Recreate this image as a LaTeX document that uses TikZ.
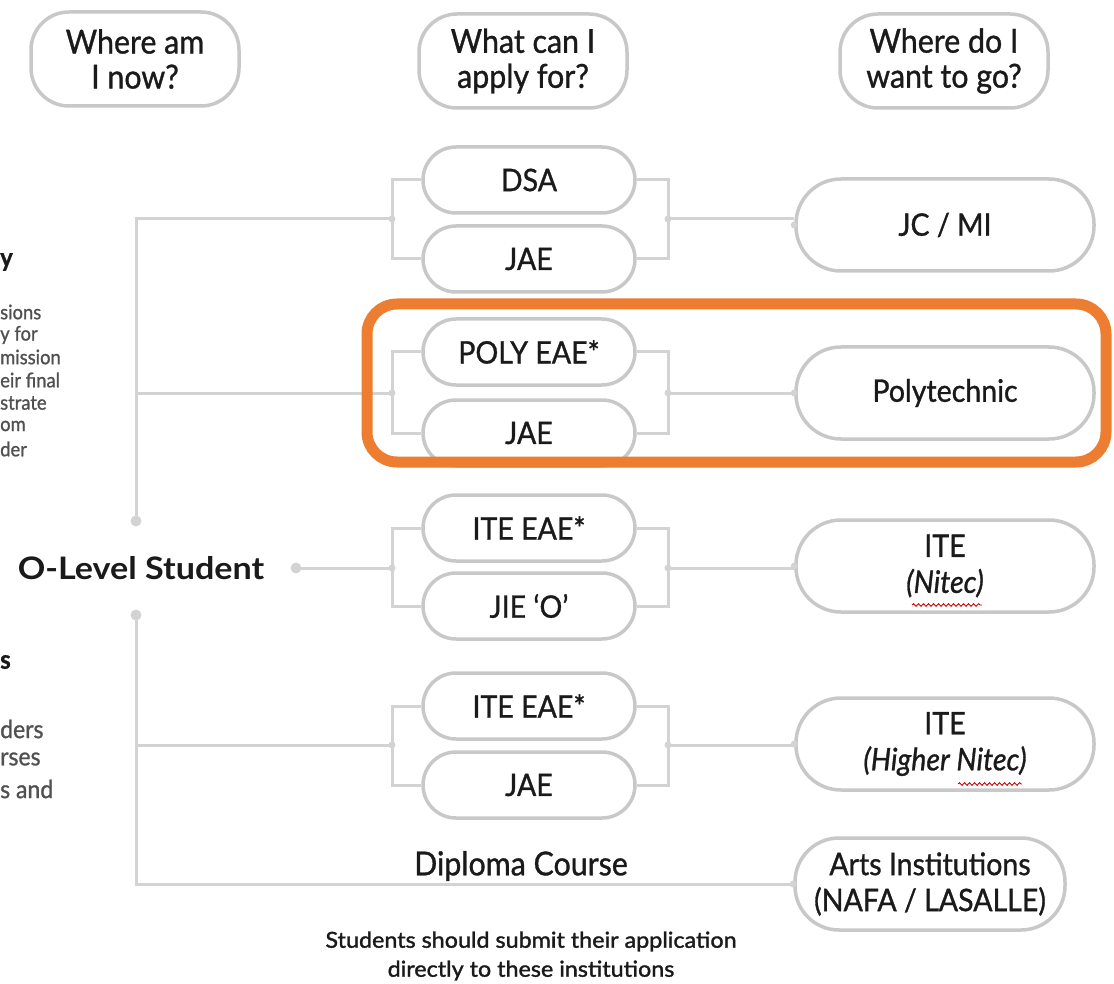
\documentclass[tikz,border=0pt]{standalone}
\usepackage{fontspec}
\setmainfont{Lato}[FakeStretch=0.92, FakeBold=1]
\newfontfamily\olfont{Lato}[FakeStretch=1.1]
\newfontfamily\notefont{Lato}[FakeStretch=1.06, FakeBold=1.5]
\usetikzlibrary{decorations.pathmorphing}
\definecolor{boxgray}{HTML}{C8C8C8}
\definecolor{linegray}{HTML}{D3D3D3}
\definecolor{hl}{HTML}{ED7D31}
\definecolor{txt}{HTML}{1A1A1A}
\definecolor{sidetxt}{HTML}{505050}
\begin{document}
\begin{tikzpicture}[x=1pt,y=-1pt,
  hdr/.style={draw=boxgray, line width=3.5pt, rounded corners=38pt, minimum width=208pt, minimum height=94pt, align=center, text=txt, font=\fontsize{33}{35}\selectfont},
  opt/.style={draw=boxgray, line width=3.5pt, rounded corners=33pt, minimum width=212pt, minimum height=66pt, text=txt, font=\fontsize{31}{34}\selectfont},
  dest/.style={draw=boxgray, line width=3.5pt, rounded corners=45pt, minimum width=298pt, minimum height=92pt, align=center, text=txt, font=\fontsize{31}{36}\selectfont},
  conn/.style={draw=linegray, line width=3pt},
  jdot/.style={circle, fill=linegray, inner sep=0pt, minimum size=11pt},
  jtick/.style={circle, fill=linegray, inner sep=0pt, minimum size=7pt},
  side/.style={anchor=west, inner sep=0pt, text=sidetxt, font=\fontsize{20}{22}\selectfont},
  sideb/.style={anchor=west, inner sep=0pt, text=txt, font=\bfseries\fontsize{26}{30}\selectfont},
  spell/.style={draw=red!85!black, line width=0.9pt, decorate, decoration={snake, amplitude=1.3pt, segment length=5pt}},
]
\useasboundingbox (0,0) rectangle (1114,984);

% headers
\node[hdr] (h1) at (135,59) {Where am\\I now?};
\node[hdr] (h2) at (523,61) {What can I\\apply for?};
\node[hdr] (h3) at (944,61) {Where do I\\want to go?};

% options
\node[opt] (dsa)  at (529,180) {DSA};
\node[opt] (jae1) at (529,259) {JAE};
\node[opt] (poly) at (529,352) {POLY EAE*};
\node[opt] (jae2) at (529,433) {JAE};
\node[opt] (ite1) at (529,528) {ITE EAE*};
\node[opt] (jie)  at (529,606) {JIE ‘O’};
\node[opt] (ite2) at (529,706) {ITE EAE*};
\node[opt] (jae3) at (529,785) {JAE};

% destinations
\node[dest] (jc)     at (945,225) {JC / MI};
\node[dest] (polyt)  at (945,393) {Polytechnic};
\node[dest] (nitec)  at (945,566) {ITE\\\textit{(Nitec)}};
\node[dest] (hnitec) at (945,744) {ITE\\\textit{(Higher Nitec)}};
\node[dest, minimum width=270pt, rounded corners=44pt] (arts) at (930,884) {Arts Institutions\\(NAFA / LASALLE)};

% O-level student
\node[font=\olfont\bfseries\fontsize{31}{34}\selectfont, text=txt] (olevel) at (141,568) {O-Level Student};
\node[font=\fontsize{33}{36}\selectfont, text=txt] (diploma) at (521,866) {Diploma Course};
\node[align=center, font=\notefont\fontsize{22}{29}\selectfont, text=txt] (note) at (531,956) {Students should submit their application\\directly to these institutions};

% bracket coordinates
\coordinate (L1) at (392,219); \coordinate (R1) at (668,219);
\coordinate (L2) at (392,393); \coordinate (R2) at (668,393);
\coordinate (L3) at (392,568); \coordinate (R3) at (668,568);
\coordinate (L4) at (392,745); \coordinate (R4) at (668,745);
\coordinate (ttop) at (136,219);
\coordinate (tbot) at (136,884);
\coordinate (dotA) at (136,521);
\coordinate (dotB) at (136,615);
\coordinate (odot) at (296,568);

% brackets
\draw[conn] (dsa.west) -| (L1) |- (jae1.west);
\draw[conn] (dsa.east) -| (R1) |- (jae1.east);
\draw[conn] (R1) -- (R1 -| jc.west);
\draw[conn] (poly.west) -| (L2) |- (jae2.west);
\draw[conn] (poly.east) -| (R2) |- (jae2.east);
\draw[conn] (R2) -- (R2 -| polyt.west);
\draw[conn] (ite1.west) -| (L3) |- (jie.west);
\draw[conn] (ite1.east) -| (R3) |- (jie.east);
\draw[conn] (R3) -- (R3 -| nitec.west);
\draw[conn] (ite2.west) -| (L4) |- (jae3.west);
\draw[conn] (ite2.east) -| (R4) |- (jae3.east);
\draw[conn] (R4) -- (R4 -| hnitec.west);

% trunk
\draw[conn] (L1) -- (ttop) -- (dotA);
\draw[conn] (L2) -- (L2 -| ttop);
\draw[conn] (odot) -- (L3);
\draw[conn] (dotB) -- (tbot) -- (tbot -| arts.west);
\draw[conn] (L4) -- (L4 -| ttop);

\foreach \p in {dotA,dotB,odot} \node[jdot] at (\p) {};
\foreach \p in {L1,R1,L2,R2,L3,R3,L4,R4} \node[jtick] at (\p) {};
\foreach \n in {jc,polyt,nitec,hnitec,arts} \node[jtick] at (\n.west) {};

% spell-check squiggles
\draw[spell] (912,605) -- (982,605);
\draw[spell] (958,784) -- (1022,784);

% highlight
\draw[hl, line width=11pt, rounded corners=30pt] (367,304) rectangle (1106,462);

% cut-off side texts
\node[sideb] (sy) at (0,262) {y};
\node[side] (s1) at (0,312) {sions};
\node[side] (s2) at (0,335) {y for};
\node[side] (s3) at (0,357) {mission};
\node[side] (s4) at (0,380) {eir final};
\node[side] (s5) at (0,403) {strate};
\node[side] (s6) at (0,426) {om};
\node[side] (s7) at (0,449) {der};
\node[sideb] (ss) at (0,662) {s};
\node[side, font=\fontsize{25}{27}\selectfont] (t1) at (0,729) {ders};
\node[side, font=\fontsize{25}{27}\selectfont] (t2) at (0,759) {rses};
\node[side, font=\fontsize{25}{27}\selectfont] (t3) at (0,789) {s and};
\end{tikzpicture}
\end{document}
